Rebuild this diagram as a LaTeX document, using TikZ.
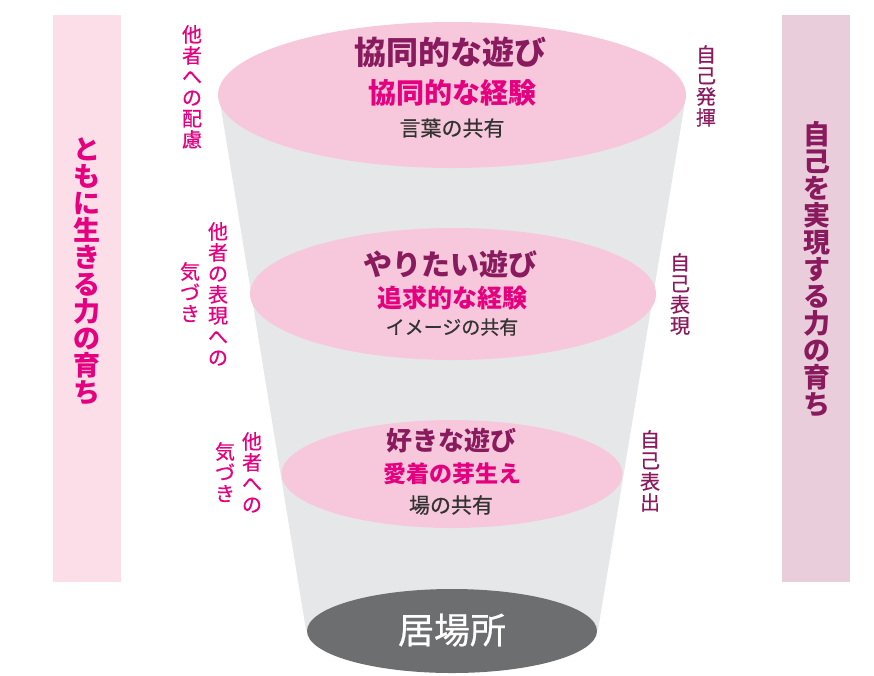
\documentclass[tikz,border=0pt]{standalone}
\usepackage{fontspec}
\usetikzlibrary{shapes.geometric}
\newfontfamily\jp{Noto Sans CJK JP}
\newfontfamily\jpm[FakeBold=0.6]{Noto Sans CJK JP}
\definecolor{ellpink}{HTML}{F7C8DB}
\definecolor{funnelgray}{HTML}{E6E7E8}
\definecolor{leftbar}{HTML}{FCDEE9}
\definecolor{rightbar}{HTML}{E9CDDA}
\definecolor{darkmag}{HTML}{8A1A5E}
\definecolor{mag}{HTML}{E5007F}
\definecolor{txtgray}{HTML}{333333}
\definecolor{basegray}{HTML}{6D6E70}
\tikzset{
  ell/.style={ellipse, fill=ellpink, inner sep=0pt},
  title/.style={font=\jp\bfseries\fontsize{#1}{#1}\selectfont, text=darkmag, inner sep=0pt},
  sub/.style={font=\jp\bfseries\fontsize{#1}{#1}\selectfont, text=mag, inner sep=0pt},
  share/.style={font=\jpm\fontsize{#1}{#1}\selectfont, text=txtgray, inner sep=0pt},
  vlab/.style={font=\jpm\fontsize{20}{21}\selectfont, text=mag, align=center, anchor=north, inner sep=0pt},
  vlabr/.style={font=\jpm\fontsize{20}{21}\selectfont, text=darkmag, align=center, anchor=north, inner sep=0pt},
  bartext/.style={font=\jp\bfseries\fontsize{27}{27}\selectfont, align=center, inner sep=0pt},
}
\begin{document}
\begin{tikzpicture}[x=1pt,y=-1pt]
\useasboundingbox (0,0) rectangle (874,675);
% side bars
\fill[leftbar] (53,15) rectangle (121,582);
\fill[rightbar] (782,15) rectangle (850,582);
\node[bartext, text=mag] (lbar) at (87,271) {と\\も\\に\\生\\き\\る\\力\\の\\育\\ち};
\node[bartext, text=darkmag] (rbar) at (817,269) {自\\己\\を\\実\\現\\す\\る\\力\\の\\育\\ち};
% funnel
\fill[funnelgray] (219,96) -- (686,96) -- (598,630) -- (306,630) -- cycle;
% ellipses
\node[ell, minimum width=468pt, minimum height=146pt] (top) at (452,95) {};
\node[ell, minimum width=406pt, minimum height=132pt] (mid) at (453,294) {};
\node[ell, minimum width=341pt, minimum height=108pt] (low) at (452,474) {};
\node[ellipse, fill=basegray, inner sep=0pt, minimum width=290pt, minimum height=84pt] (base) at (452,631) {};
\node[font=\jpm\fontsize{36}{36}\selectfont, text=white, inner sep=0pt] (basetxt) at (452,630) {居場所};
% top texts
\node[title=32] (t1) at (450,52) {協同的な遊び};
\node[sub=28] (t2) at (452,93) {協同的な経験};
\node[share=21] (t3) at (452,128) {言葉の共有};
% middle texts
\node[title=29] (m1) at (450,264) {やりたい遊び};
\node[sub=25] (m2) at (452,298) {追求的な経験};
\node[share=19] (m3) at (452,327) {イメージの共有};
% low texts
\node[title=26] (l1) at (451,441) {好きな遊び};
\node[sub=23] (l2) at (452,474) {愛着の芽生え};
\node[share=21] (l3) at (451,505) {場の共有};
% left labels
\node[vlab] (a1) at (192,25) {他\\者\\へ\\の\\配\\慮};
\node[vlab] (b1) at (218,222) {他\\者\\の\\表\\現\\へ\\の};
\node[vlab] (b2) at (190,262) {気\\づ\\き};
\node[vlab] (c1) at (252,432) {他\\者\\へ\\の};
\node[vlab] (c2) at (225,442) {気\\づ\\き};
% right labels
\node[vlabr] (d1) at (706,45) {自\\己\\発\\揮};
\node[vlabr] (d2) at (680,253) {自\\己\\表\\現};
\node[vlabr] (d3) at (650,430) {自\\己\\表\\出};
\end{tikzpicture}
\end{document}
